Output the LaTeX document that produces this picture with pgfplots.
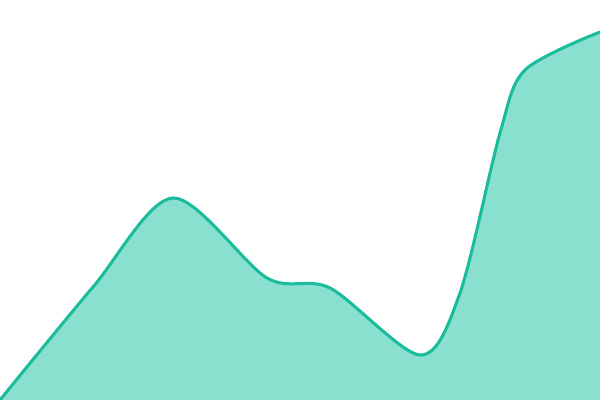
\documentclass[border=0pt]{standalone}
\usepackage{pgfplots}
\usepackage{pgfplotstable}
\pgfplotsset{compat=1.18}
\definecolor{lineteal}{HTML}{1ABC9C}
\definecolor{fillteal}{HTML}{8AE0CF}
\pgfplotstableread{
x y
0 0
93 113
173 202
267 122
330 112
420 45
460 107
500 267
525 330
600 368
}\series
\begin{document}
\begin{tikzpicture}
  \begin{axis}[
    width=6in, height=4in,
    scale only axis,
    hide axis,
    xmin=0, xmax=600,
    ymin=0, ymax=400,
    clip=true,
    ]
    \addplot[draw=none, fill=fillteal, smooth, tension=0.5]
      table[x=x, y=y] {\series} \closedcycle;
    \addplot[draw=lineteal, line width=2.2pt, smooth, tension=0.5]
      table[x=x, y=y] {\series};
  \end{axis}
  \pgfresetboundingbox
  \path (0,0) rectangle (6in,4in);
\end{tikzpicture}
\end{document}
